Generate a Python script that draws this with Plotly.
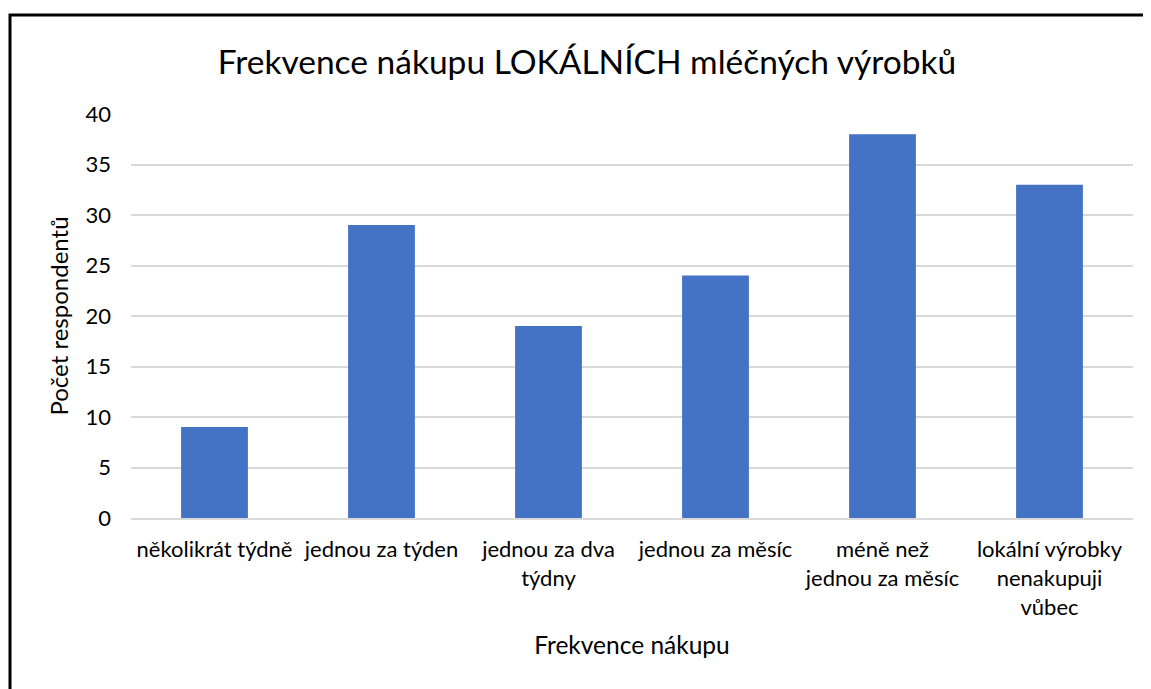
import plotly.graph_objects as go

categories = [
    "několikrát týdně",
    "jednou za týden",
    "jednou za dva<br>týdny",
    "jednou za měsíc",
    "méně než<br>jednou za měsíc",
    "lokální výrobky<br>nenakupuji<br>vůbec",
]
values = [9, 29, 19, 24, 38, 33]
y_ticks = [0, 5, 10, 15, 20, 25, 30, 35, 40]

FONT = "Lato, Carlito, Calibri, sans-serif"

fig = go.Figure(
    go.Bar(x=categories, y=values, marker=dict(color="#4472C4", line=dict(width=0)))
)

# page has an 8px body margin, so the figure is a bit smaller than the window
OFF = 8
W, H = 1151 - OFF, 689 - OFF
ml = 131 - OFF
mr = W - (1133 - OFF)
mt = 114 - OFF
mb = H - (518 - OFF)
pw = W - ml - mr
ph = H - mt - mb

def px_to_paper_x(px):
    return (px - OFF - ml) / pw

def px_to_paper_y(py):
    return (H - mb - (py - OFF)) / ph

fig.update_layout(
    width=W,
    height=H,
    margin=dict(l=ml, r=mr, t=mt, b=mb),
    paper_bgcolor="white",
    plot_bgcolor="white",
    bargap=0.6,
    showlegend=False,
    font=dict(family=FONT, color="#000000", size=22),
    title=dict(
        text="Frekvence nákupu LOKÁLNÍCH mléčných výrobků",
        x=px_to_paper_x(587),
        xref="paper",
        xanchor="center",
        y=1 - (62 - OFF) / H,
        yref="container",
        yanchor="middle",
        font=dict(family=FONT, size=33.5, color="#000000"),
    ),
    xaxis=dict(
        showgrid=False,
        showline=True,
        linecolor="#D9D9D9",
        linewidth=2,
        ticks="",
        tickfont=dict(family=FONT, size=22),
        ticklabelstandoff=11,
        title=dict(text="Frekvence nákupu", font=dict(family=FONT, size=24.5), standoff=18),
    ),
    yaxis=dict(
        range=[0, 40],
        tickvals=y_ticks,
        showgrid=True,
        gridcolor="#D9D9D9",
        gridwidth=1.5,
        zeroline=False,
        showline=False,
        ticks="",
        tickfont=dict(family=FONT, size=22),
        ticklabelstandoff=19,
        title=dict(text="Počet respondentů", font=dict(family=FONT, size=24), standoff=10),
    ),
    shapes=[
        dict(
            type="rect",
            xref="paper",
            yref="paper",
            x0=px_to_paper_x(10),
            x1=px_to_paper_x(1250),
            y0=px_to_paper_y(900),
            y1=px_to_paper_y(15),
            line=dict(color="#000000", width=3),
            fillcolor="rgba(0,0,0,0)",
            layer="above",
        )
    ],
)

fig.write_html("out.html")
